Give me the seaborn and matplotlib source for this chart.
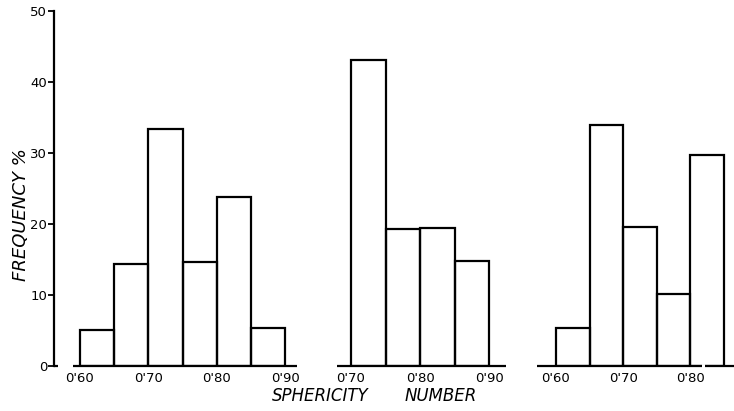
import numpy as np
import matplotlib
matplotlib.use("Agg")
import matplotlib.pyplot as plt
import seaborn as sns

# Sphericity histograms: three samples, 0.05-wide classes
edges_a = [0.60, 0.65, 0.70, 0.75, 0.80, 0.85, 0.90]
freq_a = [5.1, 14.4, 33.4, 14.7, 23.8, 5.4]

edges_b = [0.70, 0.75, 0.80, 0.85, 0.90]
freq_b = [43.1, 19.3, 19.4, 14.8]

edges_c = [0.60, 0.65, 0.70, 0.75, 0.80, 0.85]
freq_c = [5.3, 33.9, 19.6, 10.1, 29.7]

ticks_a = [0.60, 0.70, 0.80, 0.90]
labels_a = ["0'60", "0'70", "0'80", "0'90"]
ticks_b = [0.70, 0.80, 0.90]
labels_b = ["0'70", "0'80", "0'90"]
ticks_c = [0.60, 0.70, 0.80]
labels_c = ["0'60", "0'70", "0'80"]

y_ticks = [0, 10, 20, 30, 40, 50]

sns.set_style("white")
plt.rcParams["font.family"] = ["DejaVu Sans"]
plt.rcParams["text.color"] = "black"
plt.rcParams["xtick.color"] = "black"
plt.rcParams["ytick.color"] = "black"

W, H = 734, 411
fig = plt.figure(figsize=(W / 100, H / 100), dpi=100)
fig.patch.set_facecolor("white")

LW = 1.6
Y0, Y1 = 366, 11  # pixel rows of 0 and 50


def make_axes(x0, x1, xlim):
    ax = fig.add_axes([x0 / W, 1 - Y0 / H, (x1 - x0) / W, (Y0 - Y1) / H])
    ax.set_xlim(*xlim)
    ax.set_ylim(0, 50)
    ax.set_facecolor("none")
    for s in ax.spines.values():
        s.set_visible(False)
    return ax


def draw_hist(ax, edges, freq):
    centers = [(a + b) / 2 for a, b in zip(edges[:-1], edges[1:])]
    sns.histplot(x=centers, weights=freq, bins=edges, ax=ax, fill=False,
                 color="black", linewidth=LW, element="bars")
    ax.set_xlabel("")
    ax.set_ylabel("")


def x_labels(ax, ticks, labels):
    ax.set_xticks(ticks)
    ax.set_xticklabels(labels, fontsize=9.5, color="black")
    ax.tick_params(axis="x", length=0, pad=4)


# left panel, carries the frequency axis
ka = (285 - 80) / 0.30
xa = (0.60 - (80 - 54) / ka, 0.60 + (297 - 80) / ka)
ax1 = make_axes(54, 297, xa)
draw_hist(ax1, edges_a, freq_a)
ax1.set_xlim(*xa)
ax1.set_ylim(0, 50)
ax1.spines["left"].set_visible(True)
ax1.spines["left"].set_linewidth(LW)
ax1.spines["left"].set_color("black")
ax1.set_yticks(y_ticks)
ax1.set_yticklabels([str(v) for v in y_ticks], fontsize=9.5, color="black")
ax1.tick_params(axis="y", direction="out", length=4, width=1.3, pad=1,
                left=True, colors="black")
ax1.hlines(0, 0.60 - 7 / ka, xa[1], color="black", linewidth=LW, clip_on=False)
ax1.hlines(0, xa[0], xa[0] + 4 / ka, color="black", linewidth=LW, clip_on=False)
x_labels(ax1, ticks_a, labels_a)

# middle panel
kb = (489 - 351) / 0.20
xb = (0.70 - (351 - 337) / kb, 0.90 + (506 - 489) / kb)
ax2 = make_axes(337, 506, xb)
draw_hist(ax2, edges_b, freq_b)
ax2.set_xlim(*xb)
ax2.set_ylim(0, 50)
ax2.set_yticks([])
ax2.hlines(0, xb[0], xb[1], color="black", linewidth=LW, clip_on=False)
x_labels(ax2, ticks_b, labels_b)

# right panel, baseline drawn in two pieces with a small break
kc = (724 - 556) / 0.25
xc = (0.60 - (556 - 537) / kc, 0.85 + (734 - 724) / kc)
ax3 = make_axes(537, 734, xc)
draw_hist(ax3, edges_c, freq_c)
ax3.set_xlim(*xc)
ax3.set_ylim(0, 50)
ax3.set_yticks([])
gap_l = 0.60 + (702 - 556) / kc
gap_r = 0.60 + (705 - 556) / kc
ax3.hlines(0, xc[0], gap_l, color="black", linewidth=LW, clip_on=False)
ax3.hlines(0, gap_r, xc[1], color="black", linewidth=LW, clip_on=False)
ax3.hlines(0, gap_l, gap_r, color="white", linewidth=LW + 1, clip_on=False, zorder=5)
x_labels(ax3, ticks_c, labels_c)

# axis titles
fig.text(21 / W, 1 - 215 / H, "FREQUENCY %", rotation=90, style="italic",
         fontsize=13, ha="center", va="center", color="black")
fig.text(320 / W, 1 - 396 / H, "SPHERICITY", style="italic", fontsize=12,
         ha="center", va="center", color="black")
fig.text(441 / W, 1 - 396 / H, "NUMBER", style="italic", fontsize=12,
         ha="center", va="center", color="black")

fig.savefig("out.png", dpi=100, facecolor="white")
